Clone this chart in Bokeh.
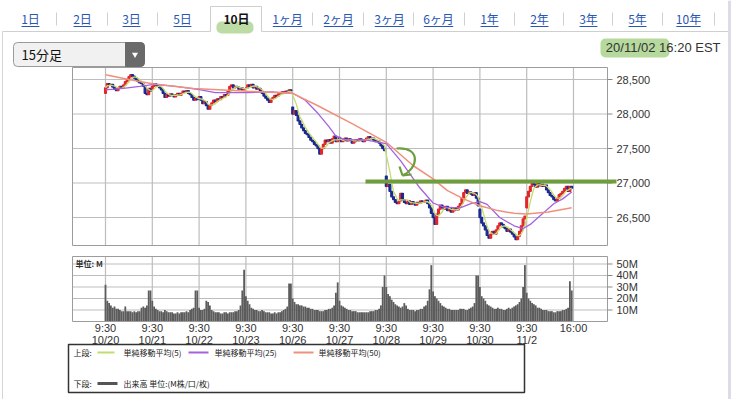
import numpy as np
import pandas as pd
from bokeh.plotting import figure
from bokeh.models import Range1d
from bokeh.core.properties import value
from bokeh.embed import file_html
from bokeh.resources import INLINE

# ---------------- data ----------------
days = ["10/20", "10/21", "10/22", "10/23", "10/26", "10/27", "10/28", "10/29", "10/30", "11/2"]
session_open_label = "9:30"
session_close_label = "16:00"
bars_per_day = 26

day_open = [28300, 28360, 28230, 28380, 28100, 27660, 27100, 26560, 26620, 26640]

close_1020 = [28380, 28440, 28420, 28430, 28390, 28360, 28340, 28370, 28400, 28390, 28420, 28470, 28500,
              28540, 28570, 28550, 28520, 28490, 28470, 28450, 28440, 28400, 28300, 28280, 28370, 28330]
close_1021 = [28400, 28440, 28420, 28400, 28380, 28350, 28300, 28240, 28280, 28260, 28290, 28270, 28250,
              28280, 28300, 28270, 28300, 28330, 28320, 28340, 28300, 28280, 28240, 28200, 28230, 28210]
close_1022 = [28250, 28200, 28150, 28180, 28120, 28070, 28130, 28160, 28200, 28180, 28220, 28210, 28250,
              28240, 28280, 28270, 28330, 28400, 28420, 28380, 28400, 28390, 28360, 28380, 28350, 28360]
close_1023 = [28380, 28420, 28400, 28430, 28380, 28400, 28360, 28370, 28330, 28300, 28260, 28230, 28200,
              28170, 28220, 28240, 28270, 28260, 28290, 28300, 28320, 28310, 28330, 28320, 28350, 28335]
close_1026 = [28000, 28050, 27980, 27900, 27850, 27800, 27760, 27720, 27700, 27660, 27620, 27600, 27560,
              27540, 27500, 27420, 27500, 27560, 27620, 27600, 27630, 27580, 27640, 27680, 27600, 27630]
close_1027 = [27640, 27600, 27620, 27650, 27610, 27640, 27620, 27580, 27600, 27630, 27610, 27640, 27620,
              27600, 27630, 27650, 27670, 27640, 27650, 27620, 27600, 27610, 27580, 27540, 27500, 27470]
close_1028 = [26950, 26980, 26880, 26800, 26760, 26720, 26700, 26740, 26850, 26760, 26720, 26700, 26740,
              26690, 26730, 26700, 26680, 26720, 26710, 26740, 26720, 26730, 26750, 26700, 26640, 26560]
close_1029 = [26500, 26400, 26550, 26620, 26680, 26650, 26620, 26660, 26600, 26630, 26580, 26600, 26640,
              26610, 26660, 26700, 26780, 26860, 26900, 26850, 26870, 26840, 26820, 26860, 26780, 26670]
close_1030 = [26500, 26420, 26380, 26320, 26240, 26200, 26260, 26300, 26260, 26320, 26380, 26420, 26400,
              26360, 26340, 26300, 26330, 26290, 26260, 26220, 26180, 26230, 26300, 26380, 26480, 26520]
close_1102 = [26800, 26880, 26950, 27000, 26980, 26940, 26990, 26960, 26980, 26950, 26970, 26900, 26860,
              26820, 26800, 26760, 26740, 26780, 26830, 26850, 26880, 26920, 26950, 26880, 26950, 26925]

vol_1020 = [32, 18, 16, 14, 12, 13, 11, 11, 10, 9, 9, 13, 9, 9, 9, 8, 9, 8, 9, 9, 12, 13, 12, 14, 27, 27]
vol_1021 = [18, 13, 11, 10, 9, 9, 8, 10, 9, 8, 8, 8, 7, 7, 8, 7, 8, 8, 8, 9, 8, 10, 11, 12, 27, 27]
vol_1022 = [12, 10, 10, 11, 18, 17, 14, 10, 9, 8, 8, 8, 7, 7, 8, 8, 7, 8, 8, 8, 9, 9, 10, 14, 27, 45]
vol_1023 = [22, 18, 15, 12, 11, 10, 10, 9, 9, 10, 9, 8, 8, 8, 7, 7, 8, 7, 8, 8, 9, 10, 11, 13, 33, 33]
vol_1026 = [20, 17, 15, 15, 14, 14, 13, 13, 12, 12, 11, 11, 10, 10, 10, 9, 9, 9, 10, 10, 11, 11, 12, 14, 25, 34]
vol_1027 = [18, 14, 13, 12, 11, 10, 10, 9, 9, 9, 8, 8, 8, 8, 8, 8, 8, 9, 9, 9, 10, 10, 11, 14, 30, 40]
vol_1028 = [30, 24, 22, 19, 17, 15, 14, 13, 12, 13, 16, 14, 11, 10, 10, 10, 9, 10, 10, 11, 11, 13, 14, 18, 28, 49]
vol_1029 = [26, 22, 20, 18, 16, 14, 13, 12, 11, 11, 10, 10, 10, 10, 10, 11, 11, 11, 10, 10, 11, 12, 13, 16, 40, 40]
vol_1030 = [30, 22, 20, 18, 15, 14, 13, 12, 11, 11, 12, 11, 11, 10, 10, 11, 12, 11, 12, 13, 14, 15, 17, 20, 30, 49]
vol_1102 = [25, 20, 18, 16, 15, 14, 12, 12, 11, 10, 10, 10, 9, 9, 9, 8, 8, 9, 9, 9, 10, 10, 11, 12, 35, 27]

# moving averages (bar index, value)
sma25_idx = [0, 10, 19, 27, 39, 53, 61, 79, 92, 104, 111, 118, 124, 128, 133, 145, 156, 164, 174, 182,
             188, 197, 203, 208, 212, 219, 227, 232, 236, 243, 249, 254, 259]
sma25_val = [28350, 28370, 28400, 28430, 28400, 28350, 28310, 28310, 28320, 28300, 28200, 28010, 27820,
             27680, 27630, 27620, 27570, 27320, 26950, 26710, 26650, 26640, 26700, 26730, 26690, 26500,
             26380, 26340, 26400, 26560, 26700, 26770, 26870]
sma50_idx = [0, 13, 26, 49, 79, 104, 118, 137, 156, 171, 182, 190, 199, 208, 218, 227, 234, 246, 259]
sma50_val = [28570, 28500, 28440, 28370, 28330, 28300, 28120, 27860, 27590, 27250, 27060, 26890, 26770,
             26670, 26600, 26560, 26550, 26580, 26640]

price_ticks = [26500, 27000, 27500, 28000, 28500]
price_tick_labels = ["26,500", "27,000", "27,500", "28,000", "28,500"]
vol_ticks = [10, 20, 30, 40, 50]
vol_tick_labels = ["10M", "20M", "30M", "40M", "50M"]

tabs = ["1日", "2日", "3日", "5日", "10日", "1ヶ月", "2ヶ月", "3ヶ月", "6ヶ月", "1年", "2年", "3年", "5年", "10年"]
selected_tab = "10日"
interval_label = "15分足"
timestamp_label = "20/11/02 16:20 EST"
legend_upper = "上段:"
legend_lower = "下段:"
legend_names = ["単純移動平均(5)", "単純移動平均(25)", "単純移動平均(50)"]
volume_legend = "出来高 単位:(M株/口/枚)"
volume_unit = "単位: M"

# ---------------- derived series ----------------
closes = np.array(close_1020 + close_1021 + close_1022 + close_1023 + close_1026 +
                  close_1027 + close_1028 + close_1029 + close_1030 + close_1102, dtype=float)
vols = np.array(vol_1020 + vol_1021 + vol_1022 + vol_1023 + vol_1026 +
                vol_1027 + vol_1028 + vol_1029 + vol_1030 + vol_1102, dtype=float)
n = len(closes)
idx = np.arange(n)
opens = np.array([day_open[i // bars_per_day] if i % bars_per_day == 0 else closes[i - 1] for i in range(n)])
up = closes >= opens
sma5 = pd.Series(closes).rolling(5, min_periods=1).mean().values
day_starts = [d * bars_per_day for d in range(len(days))]
grid_x = day_starts + [n]

# ---------------- figure ----------------
JP = value("Noto Sans CJK JP")
NUM = value("Liberation Sans")

p = figure(width=740, height=399, output_backend="svg", toolbar_location=None, title=None,
           x_range=Range1d(-58.333, 352.778), y_range=Range1d(23862.32, 29644.93),
           x_axis_type=None, y_axis_type=None, min_border=0, outline_line_color=None)
p.extra_x_ranges = {"px": Range1d(0, 740)}
p.extra_y_ranges = {"py": Range1d(399, 0), "vol": Range1d(-67.83, 279.13)}
p.grid.visible = False
p.background_fill_color = "white"
p.border_fill_color = "white"

PX = dict(x_range_name="px", y_range_name="py")

# page panel / tab decoration
p.segment(x0=[2, 261], y0=[31, 31], x1=[210, 728], y1=[31, 31], line_color="#cfcfcf", line_width=1, **PX)
p.segment(x0=[2], y0=[31], x1=[2], y1=[399], line_color="#d6d6d6", line_width=1, **PX)
p.segment(x0=[210, 210, 261], y0=[31, 6, 6], x1=[210, 261, 261], y1=[6, 6, 31], line_color="#cfcfcf", line_width=1, **PX)
p.segment(x0=[729], y0=[0], x1=[729], y1=[399], line_color="#dcdce8", line_width=3, **PX)
p.quad(left=[216], right=[253], top=[21], bottom=[33], fill_color="#b2d595", fill_alpha=0.85, line_color=None,
       border_radius=5, **PX)

tab_x = [30, 82, 131, 182, 236, 287, 338, 389, 438, 489, 539, 588, 637, 688]
sep_x = [56, 107, 157, 312, 363, 413, 464, 514, 563, 612, 662, 714]
p.segment(x0=sep_x, y0=[12] * len(sep_x), x1=sep_x, y1=[25] * len(sep_x), line_color="#d0d0d0", line_width=1, **PX)
link_tabs = [t for t in tabs if t != selected_tab]
link_x = [x for t, x in zip(tabs, tab_x) if t != selected_tab]
p.text(x=link_x, y=[18] * len(link_x), text=link_tabs, text_font=JP, text_font_size="12px",
       text_color="#2757b3", text_align="center", text_baseline="middle", **PX)
def tw(s):
    return sum(6.4 if ord(c) < 128 else 11.5 for c in s)
p.segment(x0=[x - tw(t) / 2 for t, x in zip(link_tabs, link_x)], y0=[26] * len(link_x),
          x1=[x + tw(t) / 2 for t, x in zip(link_tabs, link_x)], y1=[26] * len(link_x),
          line_color="#2757b3", line_width=1, **PX)
sel_x = tab_x[tabs.index(selected_tab)]
p.text(x=[sel_x], y=[18], text=[selected_tab], text_font=JP, text_font_size="12px", text_font_style="bold",
       text_color="#111111", text_align="center", text_baseline="middle", **PX)

# dropdown
p.quad(left=[13], right=[144], top=[42], bottom=[66], fill_color="#f1f1f1", line_color="#9a9a9a", line_width=1,
       border_radius=4, **PX)
p.quad(left=[125], right=[144], top=[42], bottom=[66], fill_color="#6a6a6a", line_color="#6a6a6a",
       border_radius=(0, 4, 4, 0), **PX)
p.scatter(x=[134.5], y=[54], marker="inverted_triangle", size=6, fill_color="white", line_color=None, **PX)
p.text(x=[21], y=[54], text=[interval_label], text_font=JP, text_font_size="13px", text_color="#111111",
       text_align="left", text_baseline="middle", **PX)

# timestamp
p.quad(left=[600], right=[669], top=[38], bottom=[57], fill_color="#a9d28c", fill_alpha=0.85, line_color=None,
       border_radius=5, **PX)
p.text(x=[720], y=[47], text=[timestamp_label], text_font=NUM, text_font_size="13px", text_color="#333333",
       text_align="right", text_baseline="middle", **PX)

# ---------------- price panel ----------------
GRID = "#bdbdbd"
p.segment(x0=[72] * len(price_ticks), x1=[607] * len(price_ticks), y0=price_ticks, y1=price_ticks,
          x_range_name="px", line_color=GRID, line_width=1.2)
p.segment(x0=grid_x, x1=grid_x, y0=[67] * len(grid_x), y1=[245] * len(grid_x), y_range_name="py",
          line_color=GRID, line_width=1.2)
p.quad(left=[72], right=[607], top=[67], bottom=[245], fill_color=None, line_color="#9c9c9c", line_width=1, **PX)
p.segment(x0=[607] * len(price_ticks), x1=[612] * len(price_ticks), y0=price_ticks, y1=price_ticks,
          x_range_name="px", line_color="#888888", line_width=1)
p.text(x=[616] * len(price_ticks), y=price_ticks, text=price_tick_labels, x_range_name="px",
       text_font=NUM, text_font_size="11px", text_color="#333333", text_align="left", text_baseline="middle")

# candles
body_top = np.maximum(opens, closes)
body_bot = np.minimum(opens, closes)
colors = np.where(up, "#e3262a", "#1b2a8f").tolist()
p.vbar(x=idx, top=body_top, bottom=body_bot, width=1.0, fill_color=colors, line_color=colors, line_width=1.3)

# moving averages
p.line(idx, sma5, line_color="#c4dc6e", line_width=1.3)
p.line(sma25_idx, sma25_val, line_color="#a562df", line_width=1.3)
p.line(sma50_idx, sma50_val, line_color="#f0907c", line_width=1.5)

# ---------------- volume panel ----------------
p.segment(x0=[72] * len(vol_ticks), x1=[607] * len(vol_ticks), y0=vol_ticks, y1=vol_ticks,
          x_range_name="px", y_range_name="vol", line_color=GRID, line_width=1.2)
p.segment(x0=grid_x, x1=grid_x, y0=[256] * len(grid_x), y1=[321] * len(grid_x), y_range_name="py",
          line_color=GRID, line_width=1.2)
p.vbar(x=idx, top=vols, bottom=0, width=1.0, y_range_name="vol", fill_color="#5c5c5c", line_color=None)
p.quad(left=[72], right=[607], top=[256], bottom=[321], fill_color=None, line_color="#9c9c9c", line_width=1, **PX)
p.segment(x0=[607] * len(vol_ticks), x1=[612] * len(vol_ticks), y0=vol_ticks, y1=vol_ticks,
          x_range_name="px", y_range_name="vol", line_color="#888888", line_width=1)
p.text(x=[616] * len(vol_ticks), y=vol_ticks, text=vol_tick_labels, x_range_name="px", y_range_name="vol",
       text_font=NUM, text_font_size="11px", text_color="#333333", text_align="left", text_baseline="middle")
p.text(x=[75], y=[263], text=[volume_unit], text_font=JP, text_font_size="8px", text_font_style="bold",
       text_color="#333333", text_align="left", text_baseline="middle", **PX)

# x labels
p.text(x=day_starts, y=[327] * len(day_starts), text=[session_open_label] * len(day_starts), y_range_name="py",
       text_font=NUM, text_font_size="11px", text_color="#333333", text_align="center", text_baseline="middle")
p.text(x=day_starts, y=[339] * len(day_starts), text=days, y_range_name="py",
       text_font=NUM, text_font_size="11px", text_color="#333333", text_align="center", text_baseline="middle")
p.text(x=[n], y=[327], text=[session_close_label], y_range_name="py",
       text_font=NUM, text_font_size="11px", text_color="#333333", text_align="center", text_baseline="middle")

# ---------------- hand-drawn green annotation ----------------
p.segment(x0=[365], y0=[181], x1=[616], y1=[181], line_color="#6e9d3c", line_width=4, **PX)
p.bezier(x0=[396], y0=[148], x1=[402], y1=[175], cx0=[421], cy0=[146], cx1=[418], cy1=[168],
         line_color="#6e9d3c", line_width=2.2, **PX)
p.segment(x0=[402, 402], y0=[175, 175], x1=[399, 411], y1=[166, 174], line_color="#6e9d3c", line_width=2.2, **PX)

# ---------------- legend box ----------------
p.quad(left=[68], right=[524], top=[344], bottom=[392], fill_color="white", line_color="#333333", line_width=1.5, **PX)
p.text(x=[73, 73], y=[352, 383], text=[legend_upper, legend_lower], text_font=JP, text_font_size="8px",
       text_color="#222222", text_align="left", text_baseline="middle", **PX)
p.segment(x0=[97, 188, 293], y0=[352] * 3, x1=[114, 208, 313], y1=[352] * 3,
          line_color=["#c4dc6e", "#a562df", "#f0907c"], line_width=2, **PX)
p.text(x=[123, 214, 318], y=[352] * 3, text=legend_names, text_font=JP, text_font_size="8px",
       text_color="#222222", text_align="left", text_baseline="middle", **PX)
p.segment(x0=[97], y0=[383], x1=[117], y1=[383], line_color="#555555", line_width=3, **PX)
p.text(x=[123], y=[383], text=[volume_legend], text_font=JP, text_font_size="8px",
       text_color="#222222", text_align="left", text_baseline="middle", **PX)

open("out.html", "w").write(file_html(p, INLINE))
